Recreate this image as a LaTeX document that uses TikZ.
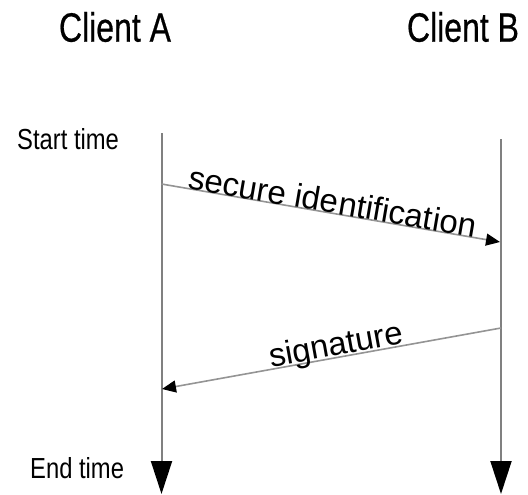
\documentclass[tikz,border=0pt]{standalone}
\usepackage{fontspec}
\setmainfont{Liberation Sans}
\newfontfamily\heavysans{Liberation Sans}[FakeBold=0.6]
\usetikzlibrary{arrows.meta}
\begin{document}
\begin{tikzpicture}[x=1pt,y=-1pt,
  lifeline/.style={draw=black!50, line width=2pt,
    -{Triangle[length=33pt,width=21pt,black]}},
  msg/.style={draw=black!42, line width=1.6pt,
    -{Triangle[length=14pt,width=12pt,black]}},
  title/.style={inner sep=0pt, font=\heavysans\fontsize{41}{41}\selectfont},
  timelabel/.style={inner sep=0pt, anchor=west, font=\fontsize{29}{29}\selectfont},
  msglabel/.style={inner sep=0pt, sloped, anchor=base, font=\fontsize{33}{33}\selectfont}
]
\useasboundingbox (0,0) rectangle (528,495);

% participants
\node[title] (ca) at (115,27) {\scalebox{0.78}[1]{Client A}};
\node[title] (cb) at (463,27) {\scalebox{0.78}[1]{Client B}};

% time labels
\node[timelabel] (start) at (17,139) {\scalebox{0.82}[1]{Start time}};
\node[timelabel] (end) at (30,468) {\scalebox{0.82}[1]{End time}};

% lifelines
\coordinate (Atop) at (161.5,133);
\coordinate (Aend) at (161.5,494);
\coordinate (Btop) at (501,139);
\coordinate (Bend) at (501,494);
\draw[lifeline] (Atop) -- (Aend);
\draw[lifeline] (Btop) -- (Bend);

% messages
\coordinate (m1s) at (161.5,184);
\coordinate (m1e) at (500,242);
\coordinate (m2s) at (501,328);
\coordinate (m2e) at (162,389);
\draw[msg] (m1s) -- node[msglabel, pos=0.5] (l1) {secure identification} (m1e);
\draw[msg] (m2s) -- node[msglabel, pos=0.48, yshift=2pt] (l2) {signature} (m2e);
\end{tikzpicture}
\end{document}
